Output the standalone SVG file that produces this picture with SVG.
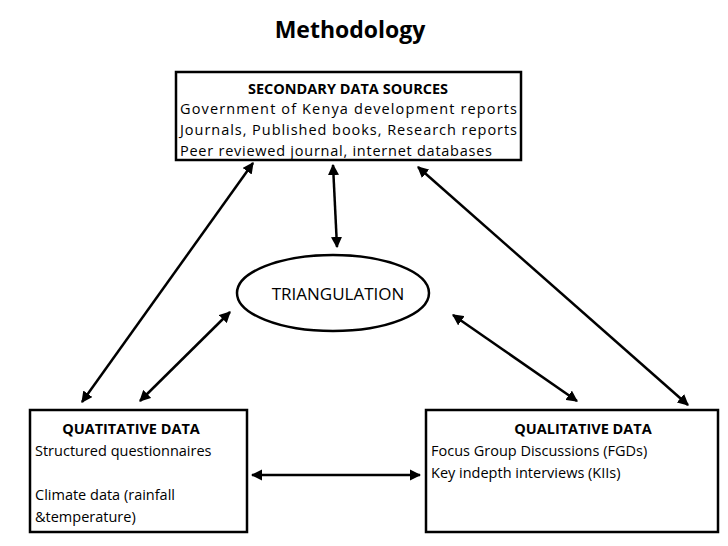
<svg xmlns="http://www.w3.org/2000/svg" width="728" height="546" viewBox="0 0 728 546">
<style>
text{font-family:"Open Sans","Liberation Sans",sans-serif;fill:#000}
.t{font-size:14.5px}
.b{font-weight:bold}
.box{fill:#fff;stroke:#000;stroke-width:2.5}
.c line{stroke:#000;stroke-width:2.5;marker-start:url(#a);marker-end:url(#a)}
</style>
<defs><marker id="a" viewBox="0 0 10 10" refX="9" refY="5" markerWidth="4.5" markerHeight="4.5" orient="auto-start-reverse"><path d="M0,0L10,5L0,10z" fill="#000"/></marker></defs>
<rect width="728" height="546" fill="#fff"/>
<text x="350" y="38" text-anchor="middle" class="b" font-size="23">Methodology</text>
<g id="secondary"><rect class="box" x="176" y="72" width="345" height="88"/>
<text x="348" y="94" text-anchor="middle" class="t b" font-size="13.5">SECONDARY DATA SOURCES</text>
<text x="180" y="114" class="t" font-size="15" textLength="337">Government of Kenya development reports</text>
<text x="180" y="135" class="t" font-size="15" textLength="337">Journals, Published books, Research reports</text>
<text x="180" y="156" class="t" font-size="15" textLength="312">Peer reviewed journal, internet databases</text></g>
<g id="triangulation"><ellipse cx="333" cy="293" rx="96" ry="38" fill="#fff" stroke="#000" stroke-width="2.5"/>
<text x="338" y="300" text-anchor="middle" font-size="17">TRIANGULATION</text></g>
<g id="quantitative"><rect class="box" x="30" y="410" width="217" height="122"/>
<text x="131" y="434" text-anchor="middle" class="t b" font-size="13.5">QUATITATIVE DATA</text>
<text x="35" y="456" class="t">Structured questionnaires</text>
<text x="35" y="500" class="t">Climate data (rainfall</text>
<text x="35" y="522" class="t">&amp;temperature)</text></g>
<g id="qualitative"><rect class="box" x="426" y="410" width="292" height="122"/>
<text x="583" y="434" text-anchor="middle" class="t b" font-size="13.5">QUALITATIVE DATA</text>
<text x="431" y="456" class="t">Focus Group Discussions (FGDs)</text>
<text x="431" y="478" class="t">Key indepth interviews (KIIs)</text></g>
<g class="c" id="connectors">
<line x1="253" y1="163" x2="82" y2="402"/>
<line x1="333" y1="165" x2="337" y2="247"/>
<line x1="418" y1="167" x2="688" y2="405"/>
<line x1="230" y1="312" x2="140" y2="401"/>
<line x1="453" y1="315" x2="577" y2="401"/>
<line x1="252" y1="475" x2="420" y2="475"/>
</g>
</svg>
